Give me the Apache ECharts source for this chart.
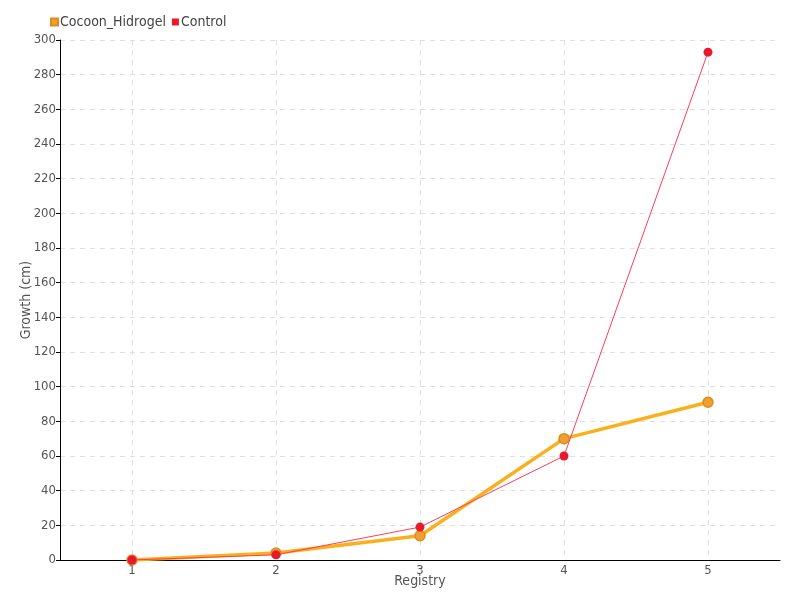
<!DOCTYPE html>
<html><head><meta charset="utf-8">
<script src="https://cdn.jsdelivr.net/npm/echarts@6/dist/echarts.min.js"></script>
<style>html,body{margin:0;padding:0;background:#fff}#c{width:800px;height:600px}</style>
</head><body><div id="c"></div>
<script>
const categories = ['1','2','3','4','5'];
const cocoonHidrogel = [0, 4, 14, 70, 91];
const control = [0, 3, 19, 60, 293];
const seriesNames = ['Cocoon_Hidrogel','Control'];
const FONT = "'DejaVu Sans Condensed','Liberation Sans Narrow',sans-serif";
const chart = echarts.init(document.getElementById('c'));
chart.setOption({
  animation:false,
  textStyle:{fontFamily:FONT},
  legend:{left:45,top:10,itemWidth:7,itemHeight:7,itemGap:6,icon:'rect',
    textStyle:{fontFamily:FONT,fontSize:14,color:'#444',padding:[0,0,0,-3]},
    data:seriesNames},
  grid:{left:60,right:20,top:40,bottom:40,containLabel:false,outerBoundsMode:'none'},
  xAxis:{type:'category',data:categories,boundaryGap:true,
    name:'Registry',nameLocation:'middle',nameGap:14,nameMoveOverlap:false,
    nameTextStyle:{fontFamily:FONT,fontSize:14,color:'#555'},
    axisLine:{lineStyle:{color:'#000',width:1}},
    axisTick:{show:false,alignWithLabel:true},
    axisLabel:{fontFamily:FONT,fontSize:13,color:'#555',margin:4},
    splitLine:{show:true,interval:0,alignWithLabel:true,lineStyle:{color:'#e0e0e0',type:[5,5]}}},
  yAxis:{type:'value',min:0,max:300,interval:20,
    name:'Growth (cm)',nameLocation:'middle',nameGap:27,nameMoveOverlap:false,
    nameTextStyle:{fontFamily:FONT,fontSize:14,color:'#555'},
    axisLine:{show:true,lineStyle:{color:'#000',width:1}},
    axisTick:{show:true,length:4,lineStyle:{color:'#000'}},
    axisLabel:{fontFamily:FONT,fontSize:13,color:'#555',margin:4},
    splitLine:{show:true,lineStyle:{color:'#e0e0e0',type:[5,5]}}},
  series:[
    {name:seriesNames[0],type:'line',data:cocoonHidrogel,color:'#f9b01c',
      lineStyle:{color:'#f9b01c',width:3.5},symbol:'circle',symbolSize:10,
      itemStyle:{color:'#f0a030',borderColor:'#d8901c',borderWidth:1.5},z:2},
    {name:seriesNames[1],type:'line',data:control,color:'#e8192c',
      lineStyle:{color:'#ff3d55',width:1},symbol:'circle',symbolSize:9,
      itemStyle:{color:'#e8192c',borderColor:'#e8192c',borderWidth:0},z:3}
  ]
});
</script></body></html>
